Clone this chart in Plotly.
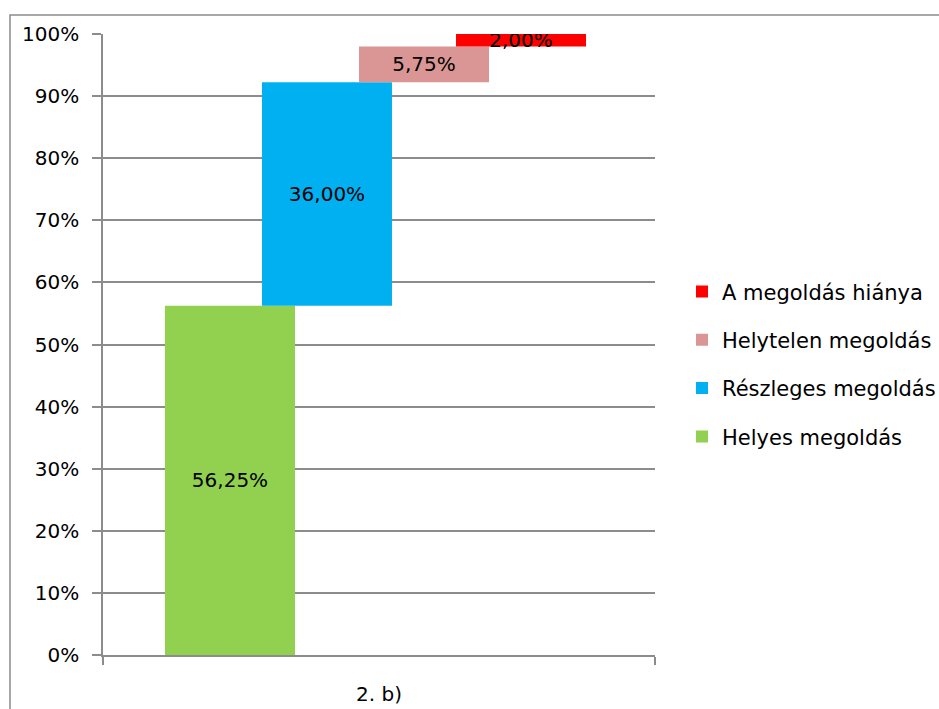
import plotly.graph_objects as go

# Share of answers per outcome, in percent
category = "2. b)"
series_names = ["Helyes megoldás", "Részleges megoldás", "Helytelen megoldás", "A megoldás hiánya"]
series_values = [56.25, 36.00, 5.75, 2.00]
series_colors = ["#92D050", "#00B0F0", "#D99694", "#FF0000"]
y_ticks = list(range(0, 101, 10))

# Each bar starts where the previous one ends (waterfall-like stacking)
bases = []
running = 0.0
for v in series_values:
    bases.append(running)
    running += v

bar_width = 0.2355
bar_offsets = [-0.3877, -0.2120, -0.0362, 0.1395]

FONT = "'DejaVu Sans', sans-serif"
FSIZE = 20
GRAY = "#8c8c8c"

fig = go.Figure()
n = len(series_names)
for i, (name, val, base, color, off) in enumerate(
        zip(series_names, series_values, bases, series_colors, bar_offsets)):
    label = f"{val:.2f}%".replace(".", ",")
    fig.add_trace(go.Bar(
        name=name,
        legendgroup=name,
        legendrank=n - i,  # last series listed first in the legend
        x=[category],
        y=[val],
        base=[base],
        width=bar_width,
        offset=off,
        marker=dict(color=color, line=dict(width=0)),
        text=[label],
        textposition="inside",
        insidetextanchor="middle",
        constraintext="none",
        textfont=dict(color="black", size=FSIZE, family=FONT),
        hoverinfo="name+y",
    ))

# Chart-area frame
fig.add_shape(type="rect", xref="paper", yref="paper",
              x0=-0.1685, x1=2.0, y0=-0.3, y1=1.0306,
              line=dict(color=GRAY, width=1.5), layer="below")

fig.update_layout(
    width=939, height=709,
    margin=dict(l=103, r=284, t=34, b=54),
    barmode="overlay",
    plot_bgcolor="white", paper_bgcolor="white",
    font=dict(family=FONT, size=FSIZE, color="black"),
    showlegend=True,
    legend=dict(
        traceorder="grouped",
        tracegroupgap=18,
        xref="container", x=0.7263, xanchor="left",
        yref="paper", y=0.468, yanchor="middle",
        font=dict(size=21, family=FONT),
        bgcolor="rgba(0,0,0,0)",
    ),
    xaxis=dict(
        type="category",
        range=[-0.5, 0.5],
        automargin=False,
        showgrid=False,
        showline=True, linecolor=GRAY, linewidth=1.5,
        ticks="outside", tickson="boundaries", ticklen=8,
        tickcolor=GRAY, tickwidth=1.5,
        ticklabelstandoff=20,
        tickfont=dict(size=FSIZE, family=FONT),
        fixedrange=True,
    ),
    yaxis=dict(
        range=[0, 100],
        automargin=False,
        tickvals=y_ticks,
        ticktext=[f"{t}%" for t in y_ticks],
        showgrid=True, gridcolor=GRAY, gridwidth=1.5,
        showline=True, linecolor=GRAY, linewidth=1.5,
        ticks="outside", ticklen=9, tickcolor=GRAY, tickwidth=1.5,
        ticklabelstandoff=9,
        tickfont=dict(size=FSIZE, family=FONT),
        zeroline=False,
        fixedrange=True,
    ),
)

fig.write_html("out.html")
